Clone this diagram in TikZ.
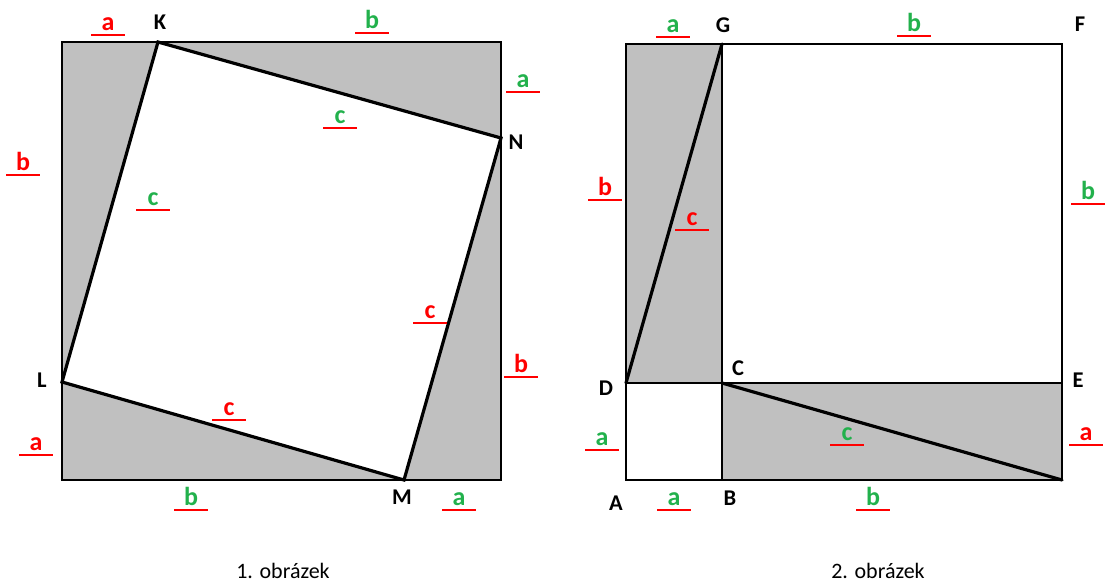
\documentclass[tikz,border=0pt]{standalone}
\usepackage{fontspec}
\setmainfont{Carlito}
\definecolor{lred}{RGB}{255,0,0}
\definecolor{lgreen}{RGB}{34,177,76}
\definecolor{boxgray}{RGB}{192,192,192}
\tikzset{
  frame/.style={draw=black,line width=2.4pt,line join=miter},
  hyp/.style={draw=black,line width=3.2pt,line cap=round},
  uline/.style={draw=lred,line width=2.6pt},
  letter/.style={font=\bfseries\fontsize{26}{28}\selectfont,inner sep=0pt,anchor=base},
  pt/.style={font=\bfseries\fontsize{22.5}{25}\selectfont,inner sep=0pt},
  caption/.style={font=\fontsize{22}{24}\selectfont,inner sep=0pt,anchor=base}
}
\newcommand{\seglab}[5]{% name, x, underline y, colour, letter
  \node[letter,text=#4] (#1) at (#2,#3-5) {#5};
  \draw[uline] ([xshift=-17pt]#1.base |- 0,#3) coordinate (#1l) -- ([xshift=17pt]#1.base |- 0,#3) coordinate (#1r);
}
\begin{document}
\begin{tikzpicture}[x=1pt,y=-1pt]
\useasboundingbox[fill=white] (0,0) rectangle (1105,582);
% ---------- figure 1 ----------
\coordinate (P1) at (62,42);
\coordinate (P2) at (501,42);
\coordinate (P3) at (501,480);
\coordinate (P4) at (62,480);
\coordinate (K) at (158,42);
\coordinate (N) at (501,138);
\coordinate (M) at (404,480);
\coordinate (L) at (62,382);
\fill[boxgray] (P1) -- (P2) -- (P3) -- (P4) -- cycle;
\fill[white] (K) -- (N) -- (M) -- (L) -- cycle;
\draw[frame] (P1) -- (P2) -- (P3) -- (P4) -- cycle;
\draw[hyp,line join=miter,line cap=butt] (K) -- (N) -- (M) -- (L) -- cycle;
\node[pt] (lK) at (160,22) {K};
\node[pt] (lN) at (516,142) {N};
\node[pt] (lL) at (42,380) {L};
\node[pt] (lM) at (402,497) {M};
\seglab{t1a}{108}{35}{lred}{a}
\seglab{t1b}{372}{33}{lgreen}{b}
\seglab{r1a}{523}{92}{lgreen}{a}
\seglab{l1b}{23}{175}{lred}{b}
\seglab{c1t}{340}{128}{lgreen}{c}
\seglab{c1l}{153}{210}{lgreen}{c}
\seglab{c1r}{430}{323}{lred}{c}
\seglab{r1b}{521}{377}{lred}{b}
\seglab{c1b}{229}{420}{lred}{c}
\seglab{l1a}{36}{455}{lred}{a}
\seglab{b1b}{191}{510}{lgreen}{b}
\seglab{b1a}{459}{510}{lgreen}{a}
\node[caption] (cap1) at (283,578) {1. obrázek};
% ---------- figure 2 ----------
\coordinate (A) at (626,480);
\coordinate (B) at (722,480);
\coordinate (C) at (722,383);
\coordinate (D) at (626,383);
\coordinate (E) at (1062,383);
\coordinate (F) at (1062,44);
\coordinate (G) at (722,44);
\coordinate (H) at (626,44);
\coordinate (Q) at (1062,480);
\fill[boxgray] (H) -- (G) -- (C) -- (D) -- cycle;
\fill[boxgray] (C) -- (E) -- (Q) -- (B) -- cycle;
\draw[frame] (H) -- (F) -- (Q) -- (A) -- cycle;
\draw[frame] (D) -- (E);
\draw[frame] (G) -- (B);
\draw[hyp] (D) -- (G);
\draw[hyp] (C) -- (Q);
\node[pt] (lG) at (723,25) {G};
\node[pt] (lF) at (1080,24) {F};
\node[pt] (lC) at (738,368) {C};
\node[pt] (lD) at (606,388) {D};
\node[pt] (lE) at (1078,380) {E};
\node[pt] (lA) at (616,503) {A};
\node[pt] (lB) at (730,498) {B};
\seglab{t2a}{673}{37}{lgreen}{a}
\seglab{t2b}{914}{36}{lgreen}{b}
\seglab{l2b}{605}{200}{lred}{b}
\seglab{c2l}{692}{230}{lred}{c}
\seglab{r2b}{1088}{204}{lgreen}{b}
\seglab{l2a}{602}{450}{lgreen}{a}
\seglab{c2b}{847}{445}{lgreen}{c}
\seglab{r2a}{1086}{445}{lred}{a}
\seglab{b2a}{674}{510}{lgreen}{a}
\seglab{b2b}{873}{510}{lgreen}{b}
\node[caption] (cap2) at (878,578) {2. obrázek};
\end{tikzpicture}
\end{document}
